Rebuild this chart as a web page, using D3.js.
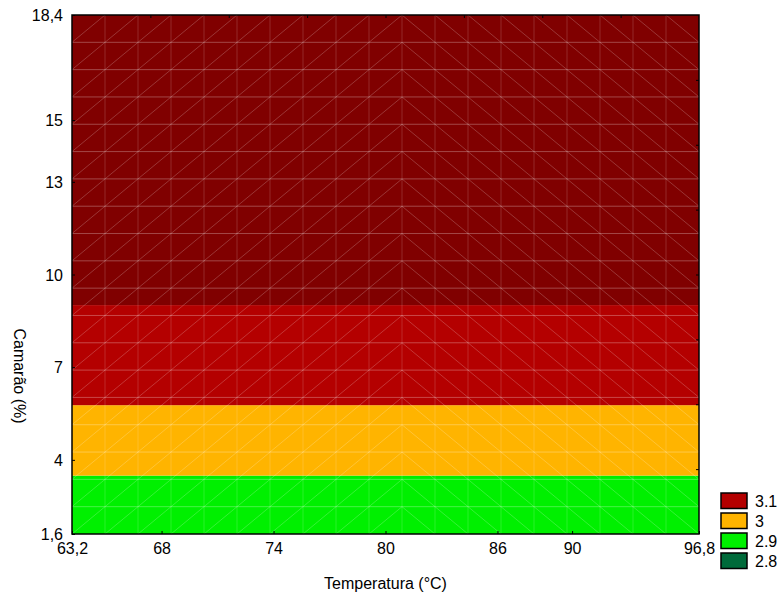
<!DOCTYPE html>
<html>
<head>
<meta charset="utf-8">
<script src="https://cdn.jsdelivr.net/npm/d3@7/dist/d3.min.js"></script>
<style>
  html, body { margin: 0; padding: 0; background: #fff; }
  svg { display: block; font-family: "Liberation Sans", Arial, sans-serif; }
</style>
</head>
<body>
<svg id="chart" width="781" height="597"></svg>
<script>
// Axis ranges and labelled ticks
const xDomain = [63.2, 96.8];
const yDomain = [1.6, 18.4];
const xTickValues = [63.2, 68, 74, 80, 86, 90, 96.8];
const xTickLabels = ["63,2", "68", "74", "80", "86", "90", "96,8"];
const yTickValues = [1.6, 4, 7, 10, 13, 15, 18.4];
const yTickLabels = ["1,6", "4", "7", "10", "13", "15", "18,4"];
// Tick marks without labels on the top and right frame edges
const topTicks = [67.4, 71.6, 75.8, 80, 84.2, 88.4, 92.6];
const rightTicks = [3.7, 5.8, 7.9, 10, 12.1, 14.2, 16.3];

// Contour bands of the fitted response (Camarão ranges)
const bandFrom   = [1.6, 3.49, 5.77, 9.01];
const bandTo     = [3.49, 5.77, 9.01, 18.4];
const bandColors = ["#00f000", "#ffb400", "#b40000", "#800000"];

// Legend
const legendLabels = ["3.1", "3", "2.9", "2.8"];
const legendColors = ["#b40000", "#ffb400", "#00f000", "#006a3a"];

// Surface mesh resolution and ridge column
const meshSteps = 19;
const ridgeX = 81.0;

const margin = { left: 72, top: 15, right: 82, bottom: 63 };
const W = 781, H = 597;
const svg = d3.select("#chart");

const x = d3.scaleLinear().domain(xDomain).range([margin.left, W - margin.right]);
const y = d3.scaleLinear().domain(yDomain).range([H - margin.bottom, margin.top]);

// Filled bands
svg.append("g").selectAll("rect")
  .data(bandFrom.map((f, i) => ({ from: f, to: bandTo[i], color: bandColors[i] })))
  .join("rect")
  .attr("x", x(xDomain[0]))
  .attr("width", x(xDomain[1]) - x(xDomain[0]))
  .attr("y", d => y(d.to))
  .attr("height", d => y(d.from) - y(d.to))
  .attr("fill", d => d.color);

// Triangulated surface mesh
const xs = d3.range(meshSteps + 1).map(i => xDomain[0] + i * (xDomain[1] - xDomain[0]) / meshSteps);
const ys = d3.range(meshSteps + 1).map(i => yDomain[0] + i * (yDomain[1] - yDomain[0]) / meshSteps);
const mesh = svg.append("g").attr("fill", "none");

mesh.selectAll("line.h").data(ys.slice(1, -1)).join("line")
  .attr("x1", x(xDomain[0])).attr("x2", x(xDomain[1]))
  .attr("y1", d => y(d)).attr("y2", d => y(d))
  .attr("stroke", "rgba(255,255,255,0.28)").attr("stroke-width", 1);

mesh.selectAll("line.v").data(xs.slice(1, -1)).join("line")
  .attr("y1", y(yDomain[0])).attr("y2", y(yDomain[1]))
  .attr("x1", d => x(d)).attr("x2", d => x(d))
  .attr("stroke", "rgba(255,255,255,0.16)").attr("stroke-width", 1);

const diag = [];
for (let i = 0; i < meshSteps; i++) {
  for (let j = 0; j < meshSteps; j++) {
    const x0 = xs[i], x1 = xs[i + 1], y0 = ys[j], y1 = ys[j + 1];
    if ((x0 + x1) / 2 < ridgeX) diag.push([x0, y0, x1, y1]);
    else diag.push([x0, y1, x1, y0]);
  }
}
mesh.selectAll("line.d").data(diag).join("line")
  .attr("x1", d => x(d[0])).attr("y1", d => y(d[1]))
  .attr("x2", d => x(d[2])).attr("y2", d => y(d[3]))
  .attr("stroke", "rgba(255,255,255,0.3)").attr("stroke-width", 0.7);

// Frame
svg.append("rect")
  .attr("x", x(xDomain[0])).attr("y", y(yDomain[1]))
  .attr("width", x(xDomain[1]) - x(xDomain[0]))
  .attr("height", y(yDomain[0]) - y(yDomain[1]))
  .attr("fill", "none").attr("stroke", "#000").attr("stroke-width", 1.5);

// Axes with inward ticks
const xAxis = d3.axisBottom(x).tickValues(xTickValues)
  .tickFormat((d, i) => xTickLabels[i]).tickSize(-3).tickPadding(6);
const gx = svg.append("g").attr("transform", `translate(0,${y(yDomain[0])})`).call(xAxis);
gx.select(".domain").remove();
gx.selectAll(".tick line").attr("stroke", "#000");
gx.selectAll("text").attr("font-size", 16).attr("fill", "#000")
  .attr("font-family", "Liberation Sans, Arial, sans-serif").attr("dy", "0.85em");

const yAxis = d3.axisLeft(y).tickValues(yTickValues)
  .tickFormat((d, i) => yTickLabels[i]).tickSize(-3).tickPadding(9);
const gy = svg.append("g").attr("transform", `translate(${x(xDomain[0])},0)`).call(yAxis);
gy.select(".domain").remove();
gy.selectAll(".tick line").attr("stroke", "#000");
gy.selectAll("text").attr("font-size", 16).attr("fill", "#000")
  .attr("font-family", "Liberation Sans, Arial, sans-serif").attr("dy", "0.36em");

const gt = svg.append("g").attr("transform", `translate(0,${y(yDomain[1])})`)
  .call(d3.axisTop(x).tickValues(topTicks).tickSize(-3).tickFormat(""));
gt.select(".domain").remove();
const gr = svg.append("g").attr("transform", `translate(${x(xDomain[1])},0)`)
  .call(d3.axisRight(y).tickValues(rightTicks).tickSize(-3).tickFormat(""));
gr.select(".domain").remove();

// Axis titles
svg.append("text")
  .attr("x", x(80)).attr("y", 589)
  .attr("text-anchor", "middle").attr("font-size", 16).attr("fill", "#000")
  .text("Temperatura (°C)");
svg.append("text")
  .attr("transform", "translate(20,376) rotate(90)")
  .attr("text-anchor", "middle").attr("dy", "0.35em")
  .attr("font-size", 16).attr("fill", "#000")
  .text("Camarão (%)");

// Legend
const lg = svg.append("g").attr("transform", "translate(721,493)");
const items = lg.selectAll("g").data(legendLabels).join("g")
  .attr("transform", (d, i) => `translate(0,${i * 20})`);
items.append("rect")
  .attr("width", 26).attr("height", 15.5)
  .attr("fill", (d, i) => legendColors[i])
  .attr("stroke", "#000").attr("stroke-width", 1.5);
items.append("text")
  .attr("x", 34).attr("y", 8).attr("dy", "0.36em")
  .attr("font-size", 16).attr("fill", "#000")
  .text(d => d);
</script>
</body>
</html>
